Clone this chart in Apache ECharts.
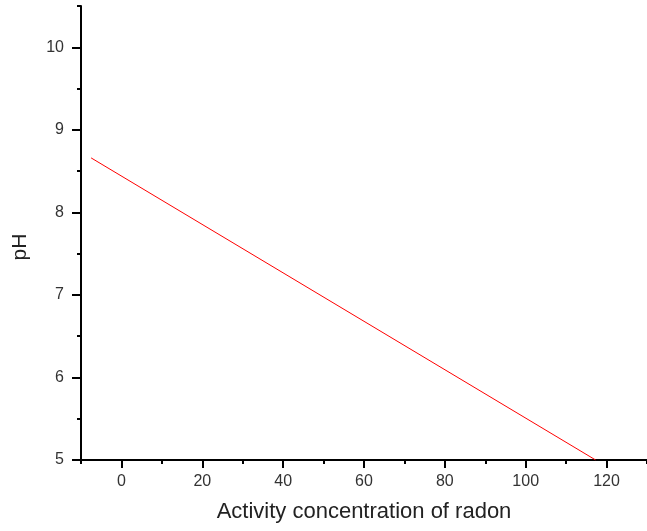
<!DOCTYPE html>
<html>
<head>
<meta charset="utf-8">
<script src="https://cdn.jsdelivr.net/npm/echarts@6/dist/echarts.min.js"></script>
<style>
html,body{margin:0;padding:0;background:#fff;}
#chart{width:647px;height:531px;}
</style>
</head>
<body>
<div id="chart"></div>
<script>
// Data
const xValues = [-7.5, 117.3];
const phValues = [8.66, 5.0];
const xMajorTicks = [0, 20, 40, 60, 80, 100, 120];
const xMinorTicks = [-10, 10, 30, 50, 70, 90, 110, 130];
const yMajorTicks = [5, 6, 7, 8, 9, 10];
const yMinorTicks = [5.5, 6.5, 7.5, 8.5, 9.5, 10.5];
const xTitle = 'Activity concentration of radon';
const yTitle = 'pH';

const font = 'Liberation Sans, Arial, sans-serif';
const chart = echarts.init(document.getElementById('chart'));

const lineData = xValues.map((x, i) => [x, phValues[i]]);

const axisLineStyle = { color: '#000', width: 2 };

chart.setOption({
  animation: false,
  backgroundColor: '#fff',
  grid: { left: 81, top: 6, bottom: 71, right: -7, containLabel: false },
  xAxis: [
    {
      type: 'value', min: -10, max: 130,
      name: xTitle, nameLocation: 'middle', nameGap: 41,
      nameTextStyle: { fontFamily: font, fontSize: 22, color: '#222' },
      axisLine: { show: true, onZero: false, lineStyle: axisLineStyle },
      axisTick: { show: true, length: 8, lineStyle: { color: '#000', width: 2 }, customValues: xMajorTicks },
      axisLabel: { show: true, margin: 14, fontFamily: font, fontSize: 16, color: '#333', customValues: xMajorTicks },
      splitLine: { show: false }
    },
    {
      type: 'value', min: -10, max: 130, position: 'bottom',
      axisLine: { show: false, onZero: false },
      axisTick: { show: true, length: 4, lineStyle: { color: '#000', width: 2 }, customValues: xMinorTicks },
      axisLabel: { show: false },
      splitLine: { show: false }
    }
  ],
  yAxis: [
    {
      type: 'value', min: 5, max: 10.5,
      name: yTitle, nameLocation: 'middle', nameGap: 50, nameRotate: 90,
      nameTextStyle: { fontFamily: font, fontSize: 21, color: '#222', padding: [0, 28, 0, 0] },
      axisLine: { show: true, onZero: false, lineStyle: axisLineStyle },
      axisTick: { show: true, length: 9, lineStyle: { color: '#000', width: 2 }, customValues: yMajorTicks },
      axisLabel: { show: true, margin: 17, fontFamily: font, fontSize: 16, color: '#333', customValues: yMajorTicks },
      splitLine: { show: false }
    },
    {
      type: 'value', min: 5, max: 10.5, position: 'left',
      axisLine: { show: false, onZero: false },
      axisTick: { show: true, length: 4, lineStyle: { color: '#000', width: 2 }, customValues: yMinorTicks },
      axisLabel: { show: false },
      splitLine: { show: false }
    }
  ],
  series: [
    {
      type: 'line',
      xAxisIndex: 0, yAxisIndex: 0,
      data: lineData,
      showSymbol: false,
      symbol: 'none',
      lineStyle: { color: '#ff0000', width: 1 },
      clip: true
    }
  ]
});
</script>
</body>
</html>
